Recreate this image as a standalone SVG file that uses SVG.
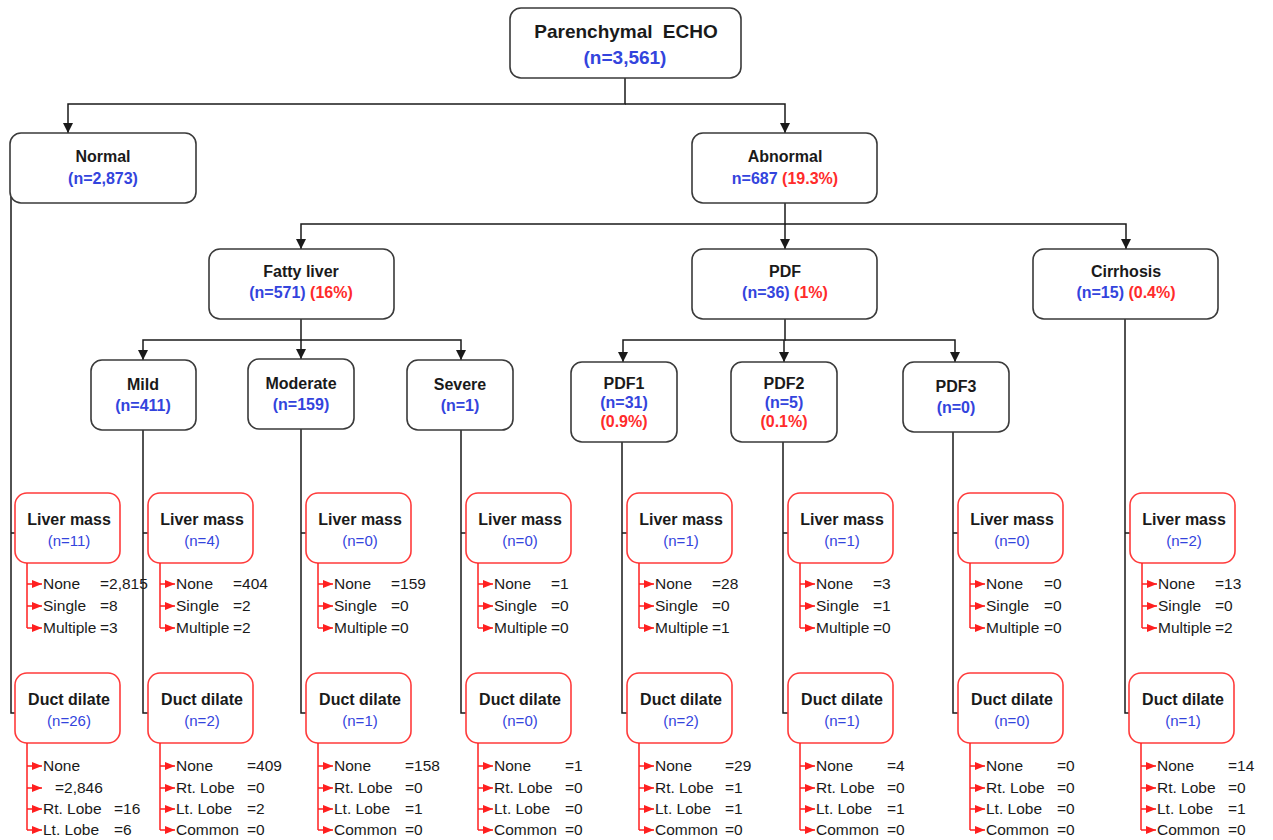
<svg xmlns="http://www.w3.org/2000/svg" width="1273" height="840" viewBox="0 0 1273 840">
<defs>
<style>
.nb{fill:#fff;stroke:#3a3a3a;stroke-width:1.6}
.rb{fill:#fff;stroke:#ff3b3b;stroke-width:1.6}
.c{fill:none;stroke:#1a1a1a;stroke-width:1.5}
.rl{fill:none;stroke:#ff1f1f;stroke-width:1.5}
.ra{fill:none;stroke:#ff1f1f;stroke-width:1.5;marker-end:url(#ra)}
.ca{marker-end:url(#ba)}
text{font-family:"Liberation Sans",Arial,sans-serif}
.t{font-size:16px;font-weight:bold;fill:#1a1a1a;text-anchor:middle}
.n{font-size:16px;font-weight:bold;fill:#3344dd;text-anchor:middle}
.p{fill:#ff2b2b}
.tt{font-size:19px;font-weight:bold;fill:#1a1a1a;text-anchor:middle}
.tn{font-size:19px;font-weight:bold;fill:#3344dd;text-anchor:middle}
.rt{font-size:16px;font-weight:bold;fill:#1a1a1a;text-anchor:middle}
.rc{font-size:15px;fill:#3344dd;text-anchor:middle}
.li{font-size:15.5px;fill:#1a1a1a}
</style>
<marker id="ba" markerUnits="userSpaceOnUse" markerWidth="10" markerHeight="11" refX="10" refY="5" orient="auto"><path d="M0,0 L10,5 L0,10 z" fill="#1a1a1a"/></marker>
<marker id="ra" markerUnits="userSpaceOnUse" markerWidth="10" markerHeight="9" refX="10" refY="4" orient="auto"><path d="M0,0 L10,4 L0,8 z" fill="#ff1f1f"/></marker>
</defs>
<rect width="1273" height="840" fill="#fff"/>

<g id="connectors">
<path class="c ca" d="M625,78 V104 H68 V133"/>
<path class="c ca" d="M625,104 H785 V133"/>
<path class="c ca" d="M785,203 V224 H301 V249"/>
<path class="c ca" d="M785,224 V249"/>
<path class="c ca" d="M785,224 H1126 V249"/>
<path class="c ca" d="M301,319 V340 H143 V360"/>
<path class="c ca" d="M301,340 V359"/>
<path class="c ca" d="M301,340 H461 V360"/>
<path class="c ca" d="M785,319 V340 H623 V362"/>
<path class="c ca" d="M784,340 V362"/>
<path class="c ca" d="M785,340 H955 V362"/>
<path class="c" d="M11,197 V713 H15 M11,533 H15"/>
<path class="c" d="M143,430 V713 H148 M143,533 H148"/>
<path class="c" d="M301,429 V713 H306 M301,533 H306"/>
<path class="c" d="M461,430 V713 H466 M461,533 H466"/>
<path class="c" d="M622,442 V713 H627 M622,533 H627"/>
<path class="c" d="M783,442 V713 H788 M783,533 H788"/>
<path class="c" d="M953,431 V713 H958 M953,533 H958"/>
<path class="c" d="M1125,319 V713 H1130 M1125,533 H1130"/>
</g>

<g id="parenchymal">
<rect class="nb" x="510" y="8" width="231" height="70" rx="11"/>
<text class="tt" x="626" y="38" word-spacing="5">Parenchymal ECHO</text>
<text class="tn" x="625" y="64">(n=3,561)</text>
</g>
<g id="normal">
<rect class="nb" x="10" y="133" width="186" height="70" rx="11"/>
<text class="t" x="103" y="162">Normal</text>
<text class="n" x="103" y="184">(n=2,873)</text>
</g>
<g id="abnormal">
<rect class="nb" x="692" y="133" width="185" height="70" rx="11"/>
<text class="t" x="785" y="162">Abnormal</text>
<text class="n" x="785" y="184">n=687 <tspan class="p">(19.3%)</tspan></text>
</g>
<g id="fatty">
<rect class="nb" x="209" y="249" width="185" height="70" rx="11"/>
<text class="t" x="301" y="277">Fatty liver</text>
<text class="n" x="301" y="298">(n=571) <tspan class="p">(16%)</tspan></text>
</g>
<g id="pdf">
<rect class="nb" x="692" y="249" width="185" height="70" rx="11"/>
<text class="t" x="785" y="277">PDF</text>
<text class="n" x="785" y="298">(n=36) <tspan class="p">(1%)</tspan></text>
</g>
<g id="cirrhosis">
<rect class="nb" x="1033" y="249" width="185" height="70" rx="11"/>
<text class="t" x="1126" y="277">Cirrhosis</text>
<text class="n" x="1126" y="298">(n=15) <tspan class="p">(0.4%)</tspan></text>
</g>
<g id="mild">
<rect class="nb" x="91" y="360" width="105" height="70" rx="11"/>
<text class="t" x="143" y="390">Mild</text>
<text class="n" x="143" y="411">(n=411)</text>
</g>
<g id="moderate">
<rect class="nb" x="248" y="359" width="106" height="70" rx="11"/>
<text class="t" x="301" y="389">Moderate</text>
<text class="n" x="301" y="410">(n=159)</text>
</g>
<g id="severe">
<rect class="nb" x="407" y="360" width="106" height="70" rx="11"/>
<text class="t" x="460" y="390">Severe</text>
<text class="n" x="460" y="411">(n=1)</text>
</g>
<g id="pdf1">
<rect class="nb" x="571" y="362" width="106" height="80" rx="11"/>
<text class="t" x="624" y="389">PDF1</text>
<text class="n" x="624" y="408">(n=31)</text>
<text class="n p" x="624" y="427">(0.9%)</text>
</g>
<g id="pdf2">
<rect class="nb" x="731" y="362" width="106" height="80" rx="11"/>
<text class="t" x="784" y="389">PDF2</text>
<text class="n" x="784" y="408">(n=5)</text>
<text class="n p" x="784" y="427">(0.1%)</text>
</g>
<g id="pdf3">
<rect class="nb" x="903" y="362" width="106" height="70" rx="11"/>
<text class="t" x="956" y="392">PDF3</text>
<text class="n" x="956" y="413">(n=0)</text>
</g>

<g id="lm1">
<rect class="rb" x="15" y="493" width="105" height="70" rx="12"/>
<text class="rt" x="69" y="525">Liver mass</text><text class="rc" x="69" y="546">(n=11)</text>
<path class="rl" d="M27,563 V628"/>
<path class="ra" d="M27,584 H42"/><path class="ra" d="M27,606 H42"/><path class="ra" d="M27,628 H42"/>
<text class="li" x="43" y="589">None</text><text class="li" x="100" y="589">=2,815</text>
<text class="li" x="43" y="611">Single</text><text class="li" x="100" y="611">=8</text>
<text class="li" x="43" y="633">Multiple</text><text class="li" x="100" y="633">=3</text>
</g>
<g id="dd1">
<rect class="rb" x="15" y="673" width="105" height="70" rx="12"/>
<text class="rt" x="69" y="705">Duct dilate</text><text class="rc" x="69" y="726">(n=26)</text>
<path class="rl" d="M27,743 V830"/>
<path class="ra" d="M27,766 H42"/><path class="ra" d="M27,788 H42"/><path class="ra" d="M27,809 H42"/><path class="ra" d="M27,830 H42"/>
<text class="li" x="43" y="771">None</text>
<text class="li" x="55" y="793">=2,846</text>
<text class="li" x="43" y="814">Rt. Lobe</text><text class="li" x="114" y="814">=16</text>
<text class="li" x="43" y="835">Lt. Lobe</text><text class="li" x="114" y="835">=6</text>
</g>

<g id="lm2">
<rect class="rb" x="148" y="493" width="105" height="70" rx="12"/>
<text class="rt" x="202" y="525">Liver mass</text><text class="rc" x="202" y="546">(n=4)</text>
<path class="rl" d="M160,563 V628"/>
<path class="ra" d="M160,584 H175"/><path class="ra" d="M160,606 H175"/><path class="ra" d="M160,628 H175"/>
<text class="li" x="176" y="589">None</text><text class="li" x="233" y="589">=404</text>
<text class="li" x="176" y="611">Single</text><text class="li" x="233" y="611">=2</text>
<text class="li" x="176" y="633">Multiple</text><text class="li" x="233" y="633">=2</text>
</g>
<g id="dd2">
<rect class="rb" x="148" y="673" width="105" height="70" rx="12"/>
<text class="rt" x="202" y="705">Duct dilate</text><text class="rc" x="202" y="726">(n=2)</text>
<path class="rl" d="M160,743 V830"/>
<path class="ra" d="M160,766 H175"/><path class="ra" d="M160,788 H175"/><path class="ra" d="M160,809 H175"/><path class="ra" d="M160,830 H175"/>
<text class="li" x="176" y="771">None</text><text class="li" x="247" y="771">=409</text>
<text class="li" x="176" y="793">Rt. Lobe</text><text class="li" x="247" y="793">=0</text>
<text class="li" x="176" y="814">Lt. Lobe</text><text class="li" x="247" y="814">=2</text>
<text class="li" x="176" y="835">Common</text><text class="li" x="247" y="835">=0</text>
</g>

<g id="lm3">
<rect class="rb" x="306" y="493" width="105" height="70" rx="12"/>
<text class="rt" x="360" y="525">Liver mass</text><text class="rc" x="360" y="546">(n=0)</text>
<path class="rl" d="M318,563 V628"/>
<path class="ra" d="M318,584 H333"/><path class="ra" d="M318,606 H333"/><path class="ra" d="M318,628 H333"/>
<text class="li" x="334" y="589">None</text><text class="li" x="391" y="589">=159</text>
<text class="li" x="334" y="611">Single</text><text class="li" x="391" y="611">=0</text>
<text class="li" x="334" y="633">Multiple</text><text class="li" x="391" y="633">=0</text>
</g>
<g id="dd3">
<rect class="rb" x="306" y="673" width="105" height="70" rx="12"/>
<text class="rt" x="360" y="705">Duct dilate</text><text class="rc" x="360" y="726">(n=1)</text>
<path class="rl" d="M318,743 V830"/>
<path class="ra" d="M318,766 H333"/><path class="ra" d="M318,788 H333"/><path class="ra" d="M318,809 H333"/><path class="ra" d="M318,830 H333"/>
<text class="li" x="334" y="771">None</text><text class="li" x="405" y="771">=158</text>
<text class="li" x="334" y="793">Rt. Lobe</text><text class="li" x="405" y="793">=0</text>
<text class="li" x="334" y="814">Lt. Lobe</text><text class="li" x="405" y="814">=1</text>
<text class="li" x="334" y="835">Common</text><text class="li" x="405" y="835">=0</text>
</g>

<g id="lm4">
<rect class="rb" x="466" y="493" width="105" height="70" rx="12"/>
<text class="rt" x="520" y="525">Liver mass</text><text class="rc" x="520" y="546">(n=0)</text>
<path class="rl" d="M478,563 V628"/>
<path class="ra" d="M478,584 H493"/><path class="ra" d="M478,606 H493"/><path class="ra" d="M478,628 H493"/>
<text class="li" x="494" y="589">None</text><text class="li" x="551" y="589">=1</text>
<text class="li" x="494" y="611">Single</text><text class="li" x="551" y="611">=0</text>
<text class="li" x="494" y="633">Multiple</text><text class="li" x="551" y="633">=0</text>
</g>
<g id="dd4">
<rect class="rb" x="466" y="673" width="105" height="70" rx="12"/>
<text class="rt" x="520" y="705">Duct dilate</text><text class="rc" x="520" y="726">(n=0)</text>
<path class="rl" d="M478,743 V830"/>
<path class="ra" d="M478,766 H493"/><path class="ra" d="M478,788 H493"/><path class="ra" d="M478,809 H493"/><path class="ra" d="M478,830 H493"/>
<text class="li" x="494" y="771">None</text><text class="li" x="565" y="771">=1</text>
<text class="li" x="494" y="793">Rt. Lobe</text><text class="li" x="565" y="793">=0</text>
<text class="li" x="494" y="814">Lt. Lobe</text><text class="li" x="565" y="814">=0</text>
<text class="li" x="494" y="835">Common</text><text class="li" x="565" y="835">=0</text>
</g>

<g id="lm5">
<rect class="rb" x="627" y="493" width="105" height="70" rx="12"/>
<text class="rt" x="681" y="525">Liver mass</text><text class="rc" x="681" y="546">(n=1)</text>
<path class="rl" d="M639,563 V628"/>
<path class="ra" d="M639,584 H654"/><path class="ra" d="M639,606 H654"/><path class="ra" d="M639,628 H654"/>
<text class="li" x="655" y="589">None</text><text class="li" x="712" y="589">=28</text>
<text class="li" x="655" y="611">Single</text><text class="li" x="712" y="611">=0</text>
<text class="li" x="655" y="633">Multiple</text><text class="li" x="712" y="633">=1</text>
</g>
<g id="dd5">
<rect class="rb" x="627" y="673" width="105" height="70" rx="12"/>
<text class="rt" x="681" y="705">Duct dilate</text><text class="rc" x="681" y="726">(n=2)</text>
<path class="rl" d="M639,743 V830"/>
<path class="ra" d="M639,766 H654"/><path class="ra" d="M639,788 H654"/><path class="ra" d="M639,809 H654"/><path class="ra" d="M639,830 H654"/>
<text class="li" x="655" y="771">None</text><text class="li" x="725" y="771">=29</text>
<text class="li" x="655" y="793">Rt. Lobe</text><text class="li" x="725" y="793">=1</text>
<text class="li" x="655" y="814">Lt. Lobe</text><text class="li" x="725" y="814">=1</text>
<text class="li" x="655" y="835">Common</text><text class="li" x="725" y="835">=0</text>
</g>

<g id="lm6">
<rect class="rb" x="788" y="493" width="105" height="70" rx="12"/>
<text class="rt" x="842" y="525">Liver mass</text><text class="rc" x="842" y="546">(n=1)</text>
<path class="rl" d="M800,563 V628"/>
<path class="ra" d="M800,584 H815"/><path class="ra" d="M800,606 H815"/><path class="ra" d="M800,628 H815"/>
<text class="li" x="816" y="589">None</text><text class="li" x="873" y="589">=3</text>
<text class="li" x="816" y="611">Single</text><text class="li" x="873" y="611">=1</text>
<text class="li" x="816" y="633">Multiple</text><text class="li" x="873" y="633">=0</text>
</g>
<g id="dd6">
<rect class="rb" x="788" y="673" width="105" height="70" rx="12"/>
<text class="rt" x="842" y="705">Duct dilate</text><text class="rc" x="842" y="726">(n=1)</text>
<path class="rl" d="M800,743 V830"/>
<path class="ra" d="M800,766 H815"/><path class="ra" d="M800,788 H815"/><path class="ra" d="M800,809 H815"/><path class="ra" d="M800,830 H815"/>
<text class="li" x="816" y="771">None</text><text class="li" x="887" y="771">=4</text>
<text class="li" x="816" y="793">Rt. Lobe</text><text class="li" x="887" y="793">=0</text>
<text class="li" x="816" y="814">Lt. Lobe</text><text class="li" x="887" y="814">=1</text>
<text class="li" x="816" y="835">Common</text><text class="li" x="887" y="835">=0</text>
</g>

<g id="lm7">
<rect class="rb" x="958" y="493" width="105" height="70" rx="12"/>
<text class="rt" x="1012" y="525">Liver mass</text><text class="rc" x="1012" y="546">(n=0)</text>
<path class="rl" d="M970,563 V628"/>
<path class="ra" d="M970,584 H985"/><path class="ra" d="M970,606 H985"/><path class="ra" d="M970,628 H985"/>
<text class="li" x="986" y="589">None</text><text class="li" x="1044" y="589">=0</text>
<text class="li" x="986" y="611">Single</text><text class="li" x="1044" y="611">=0</text>
<text class="li" x="986" y="633">Multiple</text><text class="li" x="1044" y="633">=0</text>
</g>
<g id="dd7">
<rect class="rb" x="958" y="673" width="105" height="70" rx="12"/>
<text class="rt" x="1012" y="705">Duct dilate</text><text class="rc" x="1012" y="726">(n=0)</text>
<path class="rl" d="M970,743 V830"/>
<path class="ra" d="M970,766 H985"/><path class="ra" d="M970,788 H985"/><path class="ra" d="M970,809 H985"/><path class="ra" d="M970,830 H985"/>
<text class="li" x="986" y="771">None</text><text class="li" x="1057" y="771">=0</text>
<text class="li" x="986" y="793">Rt. Lobe</text><text class="li" x="1057" y="793">=0</text>
<text class="li" x="986" y="814">Lt. Lobe</text><text class="li" x="1057" y="814">=0</text>
<text class="li" x="986" y="835">Common</text><text class="li" x="1057" y="835">=0</text>
</g>

<g id="lm8">
<rect class="rb" x="1130" y="493" width="105" height="70" rx="12"/>
<text class="rt" x="1184" y="525">Liver mass</text><text class="rc" x="1184" y="546">(n=2)</text>
<path class="rl" d="M1142,563 V628"/>
<path class="ra" d="M1142,584 H1157"/><path class="ra" d="M1142,606 H1157"/><path class="ra" d="M1142,628 H1157"/>
<text class="li" x="1158" y="589">None</text><text class="li" x="1215" y="589">=13</text>
<text class="li" x="1158" y="611">Single</text><text class="li" x="1215" y="611">=0</text>
<text class="li" x="1158" y="633">Multiple</text><text class="li" x="1215" y="633">=2</text>
</g>
<g id="dd8">
<rect class="rb" x="1129" y="673" width="105" height="70" rx="12"/>
<text class="rt" x="1183" y="705">Duct dilate</text><text class="rc" x="1183" y="726">(n=1)</text>
<path class="rl" d="M1141,743 V830"/>
<path class="ra" d="M1141,766 H1156"/><path class="ra" d="M1141,788 H1156"/><path class="ra" d="M1141,809 H1156"/><path class="ra" d="M1141,830 H1156"/>
<text class="li" x="1157" y="771">None</text><text class="li" x="1228" y="771">=14</text>
<text class="li" x="1157" y="793">Rt. Lobe</text><text class="li" x="1228" y="793">=0</text>
<text class="li" x="1157" y="814">Lt. Lobe</text><text class="li" x="1228" y="814">=1</text>
<text class="li" x="1157" y="835">Common</text><text class="li" x="1228" y="835">=0</text>
</g>
</svg>
